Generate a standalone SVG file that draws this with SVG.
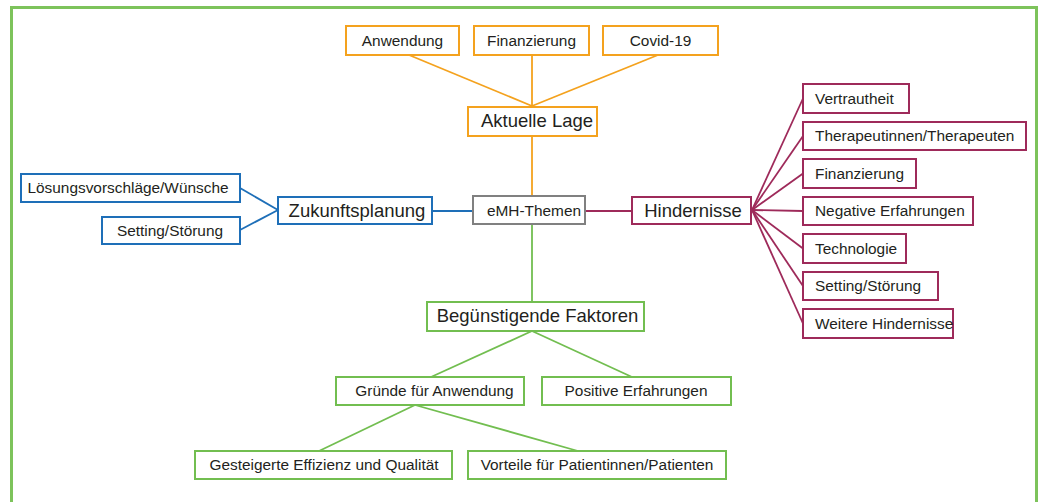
<svg xmlns="http://www.w3.org/2000/svg" width="1040" height="502" viewBox="0 0 1040 502">
<style>
text{font-family:"Liberation Sans",Arial,sans-serif;fill:#231f20;text-anchor:middle}
.s{font-size:15.4px}
.l{font-size:18.5px}
.lt{text-anchor:start}
rect{fill:#fff;stroke-width:2}
.o{stroke:#F4A21E}
.b{stroke:#1E6FB8}
.m{stroke:#9E2A5A}
.g{stroke:#72BE50}
.k{stroke:#808080}
line{stroke-width:1.8}
</style>
<rect x="11.5" y="7.5" width="1025" height="510" style="fill:#fff;stroke:#7DC35B;stroke-width:3"/>
<g id="connectors">
<line class="o" x1="409" y1="55" x2="532" y2="106"/>
<line class="o" x1="532" y1="55" x2="532" y2="106"/>
<line class="o" x1="658" y1="55" x2="532" y2="106"/>
<line class="o" x1="532" y1="136" x2="532" y2="196"/>
<line class="b" x1="240" y1="188" x2="278" y2="210"/>
<line class="b" x1="240" y1="230" x2="278" y2="210"/>
<line class="b" x1="432" y1="211" x2="473" y2="211"/>
<line class="m" x1="585" y1="211" x2="632" y2="211"/>
<line class="m" x1="752" y1="210" x2="803" y2="98.5"/>
<line class="m" x1="752" y1="210" x2="803" y2="136"/>
<line class="m" x1="752" y1="210" x2="803" y2="173.5"/>
<line class="m" x1="752" y1="210" x2="803" y2="211"/>
<line class="m" x1="752" y1="210" x2="803" y2="248.5"/>
<line class="m" x1="752" y1="210" x2="803" y2="286"/>
<line class="m" x1="752" y1="210" x2="803" y2="323.5"/>
<line class="g" x1="532" y1="224" x2="532" y2="302"/>
<line class="g" x1="532" y1="331" x2="431" y2="377"/>
<line class="g" x1="532" y1="331" x2="632" y2="377"/>
<line class="g" x1="415" y1="405" x2="319" y2="451"/>
<line class="g" x1="415" y1="405" x2="578" y2="451"/>
</g>
<g id="n-anwendung"><rect class="o" x="346" y="26" width="113" height="29"/><text class="s" x="402.5" y="46">Anwendung</text></g>
<g id="n-finanzierung-top"><rect class="o" x="474" y="26" width="115" height="29"/><text class="s" x="531.5" y="46">Finanzierung</text></g>
<g id="n-covid"><rect class="o" x="603" y="26" width="115" height="29"/><text class="s" x="660.5" y="46">Covid-19</text></g>
<g id="n-aktuelle-lage"><rect class="o" x="468" y="107" width="129" height="29"/><text class="l" x="537" y="127">Aktuelle Lage</text></g>
<g id="n-loesungen"><rect class="b" x="21" y="174" width="219" height="28"/><text class="s" x="128" y="193">Lösungsvorschläge/Wünsche</text></g>
<g id="n-setting-blue"><rect class="b" x="102" y="217" width="138" height="27"/><text class="s" x="170" y="236">Setting/Störung</text></g>
<g id="n-zukunft"><rect class="b" x="278" y="197" width="154" height="27"/><text class="l" x="357" y="217">Zukunftsplanung</text></g>
<g id="n-emh"><rect class="k" x="473" y="196" width="112" height="28"/><text class="s" x="534" y="216">eMH-Themen</text></g>
<g id="n-hindernisse"><rect class="m" x="632" y="197" width="119" height="27"/><text class="l" x="693" y="217">Hindernisse</text></g>
<g id="n-vertrautheit"><rect class="m" x="803" y="84" width="106" height="29"/><text class="s lt" x="815" y="103.5">Vertrautheit</text></g>
<g id="n-therapeuten"><rect class="m" x="803" y="122" width="223" height="28"/><text class="s lt" x="815" y="141">Therapeutinnen/Therapeuten</text></g>
<g id="n-finanzierung-right"><rect class="m" x="803" y="159" width="113" height="29"/><text class="s lt" x="815" y="178.5">Finanzierung</text></g>
<g id="n-negative"><rect class="m" x="803" y="197" width="170" height="28"/><text class="s lt" x="815" y="216">Negative Erfahrungen</text></g>
<g id="n-technologie"><rect class="m" x="803" y="234" width="103" height="29"/><text class="s lt" x="815" y="253.5">Technologie</text></g>
<g id="n-setting-right"><rect class="m" x="803" y="272" width="135" height="28"/><text class="s lt" x="815" y="291">Setting/Störung</text></g>
<g id="n-weitere"><rect class="m" x="803" y="309" width="150" height="29"/><text class="s lt" x="815" y="328.5">Weitere Hindernisse</text></g>
<g id="n-beguenstigende"><rect class="g" x="427" y="302" width="217" height="29"/><text class="l" x="537.5" y="322">Begünstigende Faktoren</text></g>
<g id="n-gruende"><rect class="g" x="336" y="377" width="188" height="28"/><text class="s" x="434.5" y="396">Gründe für Anwendung</text></g>
<g id="n-positive"><rect class="g" x="542" y="377" width="189" height="28"/><text class="s" x="636" y="396">Positive Erfahrungen</text></g>
<g id="n-gesteigerte"><rect class="g" x="195" y="451" width="257" height="28"/><text class="s" x="324" y="470">Gesteigerte Effizienz und Qualität</text></g>
<g id="n-vorteile"><rect class="g" x="468" y="451" width="258" height="28"/><text class="s" x="597" y="470">Vorteile für Patientinnen/Patienten</text></g>
</svg>
